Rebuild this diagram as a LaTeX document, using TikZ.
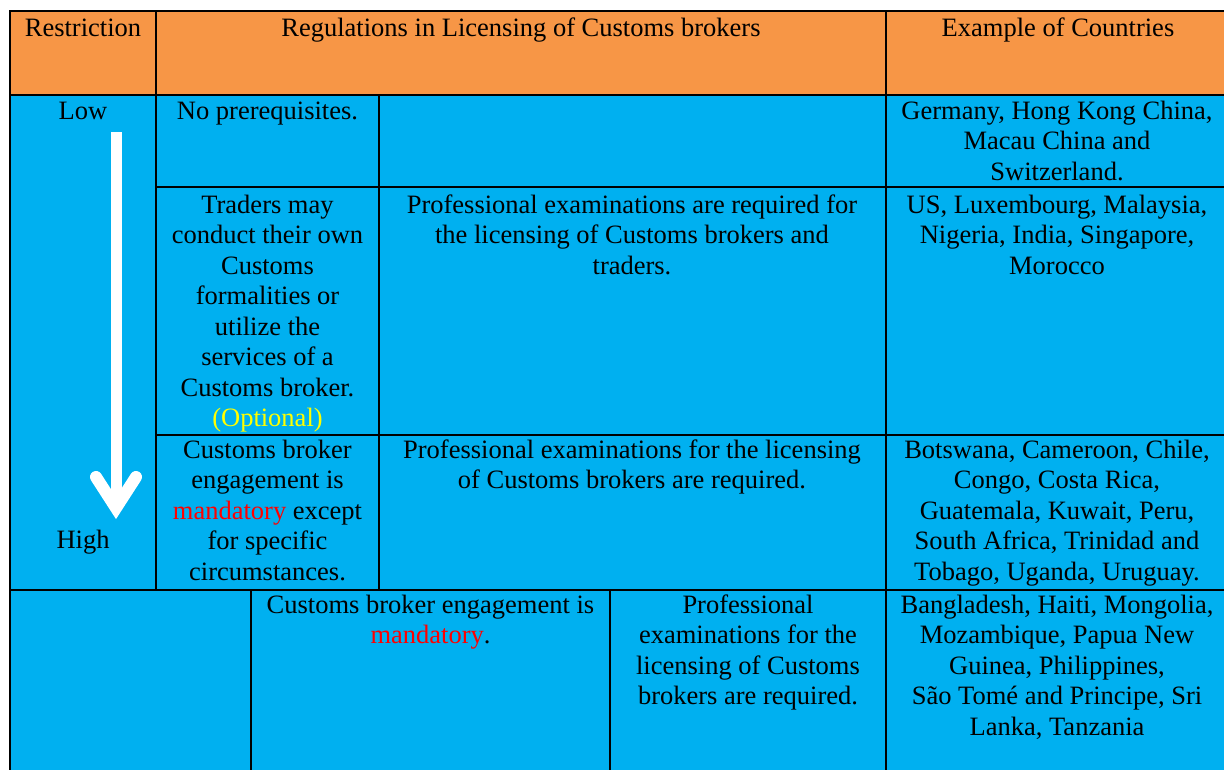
\documentclass[tikz,border=0pt]{standalone}
\usepackage{fontspec}
\setmainfont{Liberation Serif}
\definecolor{hdr}{HTML}{F79646}
\definecolor{bodyblue}{HTML}{00B0F0}
\definecolor{redword}{HTML}{FF0000}
\definecolor{yellowword}{HTML}{FFFF00}
\begin{document}
\begin{tikzpicture}[x=1pt,y=-1pt,
  cell/.style={anchor=north,inner sep=0pt,align=center,text=black,
    font={\fontsize{26.5}{30.5}\selectfont}},
  grid/.style={black,line width=2pt},
  arrowpart/.style={white,line width=11pt}]
\useasboundingbox (0,0) rectangle (1224,769);
\begin{scope}
\clip (0,0) rectangle (1224,769);
% fills
\fill[hdr] (10,11) rectangle (1240,95);
\fill[bodyblue] (10,95) rectangle (1240,780);
% grid lines
\draw[grid] (10,780) -- (10,11) -- (1240,11);
\draw[grid] (10,95) -- (1240,95);
\draw[grid] (156,11) -- (156,590);
\draw[grid] (886,11) -- (886,780);
\draw[grid] (379,95) -- (379,590);
\draw[grid] (156,187) -- (1240,187);
\draw[grid] (156,435) -- (1240,435);
\draw[grid] (10,590) -- (1240,590);
\draw[grid] (251,590) -- (251,780);
\draw[grid] (610,590) -- (610,780);
\end{scope}
% arrow
\draw[arrowpart,line cap=butt] (116,132) -- (116,505);
\draw[arrowpart,line width=12pt,line cap=round,line join=miter] (96,477) -- (116,508) -- (136,477);
% header
\node[cell] (hrestr) at (83,14.6) {\strut Restriction};
\node[cell] (hregs) at (521,14.6) {\strut Regulations in Licensing of Customs brokers};
\node[cell] (hctry) at (1058,14.6) {\strut Example of Countries};
% row 1
\node[cell] (low) at (83,97.6) {\strut Low};
\node[cell] (r1a) at (267.5,97.6) {\strut No prerequisites.};
\node[cell] (r1c) at (1057,97.6) {\strut Germany, Hong Kong China,\\Macau China and\\Switzerland.};
% row 2
\node[cell] (r2a) at (267.5,191.6) {\strut Traders may\\conduct their own\\Customs\\formalities or\\utilize the\\services of a\\Customs broker.\\\textcolor{yellowword}{(Optional)}};
\node[cell] (r2b) at (632,191.6) {\strut Professional examinations are required for\\the licensing of Customs brokers and\\traders.};
\node[cell] (r2c) at (1057,191.6) {\strut US, Luxembourg, Malaysia,\\Nigeria, India, Singapore,\\Morocco};
% row 3
\node[cell] (r3a) at (267.5,436.6) {\strut Customs broker\\engagement is\\\textcolor{redword}{mandatory} except\\for specific\\circumstances.};
\node[cell] (r3b) at (632,436.6) {\strut Professional examinations for the licensing\\of Customs brokers are required.};
\node[cell] (r3c) at (1057,436.6) {\strut Botswana, Cameroon, Chile,\\Congo, Costa Rica,\\Guatemala, Kuwait, Peru,\\South Africa, Trinidad and\\Tobago, Uganda, Uruguay.};
\node[cell] (high) at (83,526.6) {\strut High};
% row 4
\node[cell] (r4b) at (430.5,591.6) {\strut Customs broker engagement is\\\textcolor{redword}{mandatory}.};
\node[cell] (r4c) at (748,591.6) {\strut Professional\\examinations for the\\licensing of Customs\\brokers are required.};
\node[cell] (r4d) at (1057,591.6) {\strut Bangladesh, Haiti, Mongolia,\\Mozambique, Papua New\\Guinea, Philippines,\\São Tomé and Principe, Sri\\Lanka, Tanzania};
\end{tikzpicture}
\end{document}
